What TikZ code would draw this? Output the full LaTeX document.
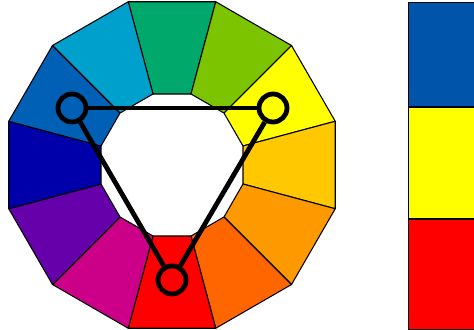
\documentclass[tikz,border=0pt]{standalone}
\usepackage{xcolor}
\usepackage{tikz}
\usetikzlibrary{calc}
\definecolor{cGreen}{HTML}{00A86B}
\definecolor{cLime}{HTML}{7DC400}
\definecolor{cYellow}{HTML}{FFFF00}
\definecolor{cAmber}{HTML}{FFC800}
\definecolor{cOrange}{HTML}{FF9900}
\definecolor{cVermil}{HTML}{FF6600}
\definecolor{cRed}{HTML}{FF0000}
\definecolor{cMagenta}{HTML}{CC0088}
\definecolor{cViolet}{HTML}{6600AA}
\definecolor{cNavy}{HTML}{0000AA}
\definecolor{cBlue}{HTML}{0060B5}
\definecolor{cTeal}{HTML}{00A0CC}
\definecolor{cSwatchBlue}{HTML}{0055AA}
\tikzset{
  segment/.style={draw=black, line width=0.8pt, line join=round},
  swatch/.style={draw=black, line width=0.8pt},
  marker/.style={draw=black, circle, line width=3.6pt, minimum size=21pt, inner sep=0pt},
  link/.style={line width=3.6pt}
}

\begin{document}
\begin{tikzpicture}[x=0.75pt, y=0.75pt]
        \useasboundingbox (0,0) rectangle (474,329);

        % Colour wheel
        \coordinate (hub) at (172,164);
        \foreach \ang/\col in {90/cGreen, 60/cLime, 30/cYellow, 0/cAmber,
                               -30/cOrange, -60/cVermil, -90/cRed, -120/cMagenta,
                               -150/cViolet, 180/cNavy, 150/cBlue, 120/cTeal}{
          \fill[\col] ($(hub)+(\ang-15:73.5)$) -- ($(hub)+(\ang-15:169)$)
                   -- ($(hub)+(\ang+15:169)$) -- ($(hub)+(\ang+15:73.5)$) -- cycle;
          \draw[segment] ($(hub)+(\ang-15:73.5)$) -- ($(hub)+(\ang-15:169)$)
                   -- ($(hub)+(\ang+15:169)$) -- ($(hub)+(\ang+15:73.5)$) -- cycle;
        }

        % Triad markers
        \node[marker] (blue)   at (72,221)  {};
        \node[marker] (yellow) at (273,221) {};
        \node[marker] (red)    at (172,49)  {};

        % Triangle
        \draw[link] (blue) -- (yellow);
        \draw[link] (yellow) -- (red);
        \draw[link] (red) -- (blue);

        % Swatches
        \begin{scope}
          \clip (0,0) rectangle (474,329);
          \node[swatch, fill=cSwatchBlue, anchor=north west, minimum width=90pt, minimum height=78pt, inner sep=0pt] (swBlue) at (408,327) {};
          \node[swatch, fill=cYellow, anchor=north west, minimum width=90pt, minimum height=83.25pt, inner sep=0pt] (swYellow) at (swBlue.south west) {};
          \node[swatch, fill=cRed, anchor=north west, minimum width=90pt, minimum height=82.5pt, inner sep=0pt] (swRed) at (swYellow.south west) {};
        \end{scope}
    \end{tikzpicture}
\end{document}
